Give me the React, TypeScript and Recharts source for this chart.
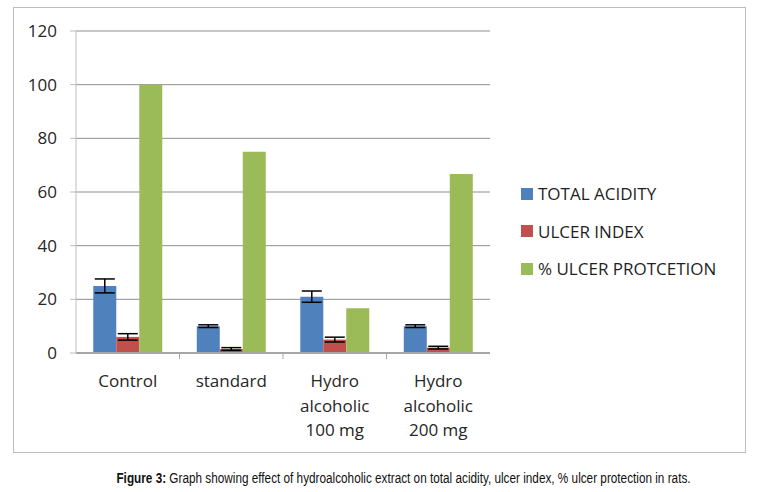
import React from 'react';
import { BarChart, Bar, XAxis, YAxis, CartesianGrid, Legend, ErrorBar } from 'recharts';

// groups on the x axis (multi-line labels)
const groups = ['Control', 'standard', 'Hydro\nalcoholic\n100 mg', 'Hydro\nalcoholic\n200 mg'];

const totalAcidity = [25, 10, 21, 10];
const totalAcidityErr = [2.6, 0.5, 2.1, 0.5];
const ulcerIndex = [6, 1.5, 5, 2];
const ulcerIndexErr = [1.2, 0.5, 0.9, 0.5];
const ulcerProtection = [100, 75, 16.7, 66.7];

const seriesNames = ['TOTAL ACIDITY', 'ULCER INDEX', '% ULCER PROTCETION'];
const yTicks = [0, 20, 40, 60, 80, 100, 120];

const data = groups.map((name, i) => ({
  name,
  acidity: totalAcidity[i],
  acidityErr: totalAcidityErr[i],
  ulcer: ulcerIndex[i],
  ulcerErr: ulcerIndexErr[i],
  protection: ulcerProtection[i],
}));

const FONT = '"Open Sans", sans-serif';
const CHART_W = 761;
const MARGIN = { top: 31, right: 271, left: 16, bottom: 17 };
const Y_W = 60;
const band = (CHART_W - MARGIN.left - MARGIN.right - Y_W) / groups.length;

const XTick = (props: any) => {
  const { x, y, payload, index } = props;
  const lines = String(payload.value).split('\n');
  return (
    <g>
      {index < groups.length - 1 && (
        <line x1={x + band / 2} x2={x + band / 2} y1={y} y2={y + 6} stroke="#a6a6a6" strokeWidth={1} />
      )}
      <text x={x} y={y} textAnchor="middle" fill="#262626" fontSize={17} fontFamily={FONT}>
        {lines.map((l, i) => (
          <tspan key={i} x={x} dy={i === 0 ? 34 : 24.5}>
            {l}
          </tspan>
        ))}
      </text>
    </g>
  );
};

const LegendBox = (props: any) => {
  const items = [...(props.payload || [])].sort(
    (a: any, b: any) => seriesNames.indexOf(a.value) - seriesNames.indexOf(b.value)
  );
  return (
    <div style={{ fontFamily: FONT, fontSize: 17, color: '#1f1f1f', width: 230 }}>
      {items.map((p: any) => (
        <div key={p.value} style={{ display: 'flex', alignItems: 'center', height: 37.5, whiteSpace: 'nowrap' }}>
          <span
            style={{
              display: 'inline-block',
              flex: '0 0 12px',
              width: 12,
              height: 12,
              background: p.color,
              marginRight: 5,
            }}
          />
          <span>{p.value}</span>
        </div>
      ))}
    </div>
  );
};

export default function App() {
  return (
    <div style={{ position: 'absolute', left: 0, top: 0, width: 761, height: 492, background: '#fff' }}>
      <div
        style={{
          position: 'absolute',
          left: 13,
          top: 7,
          width: 731,
          height: 444,
          border: '1px solid #bdbdbd',
        }}
      />
      <div style={{ position: 'absolute', left: 0, top: 0 }}>
        <BarChart width={CHART_W} height={460} data={data} margin={MARGIN} barGap={0} barCategoryGap="16.7%">
          <CartesianGrid horizontal vertical={false} stroke="#8f8f8f" strokeWidth={1} />
          <XAxis
            dataKey="name"
            interval={0}
            height={90}
            tickLine={false}
            tickSize={0}
            tickMargin={0}
            axisLine={{ stroke: '#a6a6a6', strokeWidth: 2 }}
            tick={<XTick />}
          />
          <YAxis
            width={Y_W}
            domain={[0, 120]}
            ticks={yTicks}
            interval={0}
            axisLine={{ stroke: '#bdbdbd' }}
            tickLine={{ stroke: '#bdbdbd' }}
            tickSize={6}
            tickMargin={13}
            tick={{ fill: '#262626', fontSize: 17, fontFamily: FONT }}
          />
          <Legend
            layout="vertical"
            verticalAlign="middle"
            align="right"
            content={<LegendBox />}
            wrapperStyle={{ position: 'absolute', left: 521, top: 175, width: 0, overflow: 'visible' }}
          />
          <Bar dataKey="acidity" name={seriesNames[0]} fill="#4f81bd" isAnimationActive={false}>
            <ErrorBar dataKey="acidityErr" width={10} stroke="#000" strokeWidth={1.5} />
          </Bar>
          <Bar dataKey="ulcer" name={seriesNames[1]} fill="#c0504d" isAnimationActive={false}>
            <ErrorBar dataKey="ulcerErr" width={10} stroke="#000" strokeWidth={1.5} />
          </Bar>
          <Bar dataKey="protection" name={seriesNames[2]} fill="#9bbb59" isAnimationActive={false} />
        </BarChart>
      </div>
      <div
        style={{
          position: 'absolute',
          left: 23,
          width: 761,
          top: 470,
          textAlign: 'center',
          fontFamily: '"Liberation Sans", Arial, sans-serif',
          fontSize: 14,
          color: '#111',
          whiteSpace: 'nowrap',
          transform: 'scaleX(0.84)',
          transformOrigin: '50% 0',
        }}
      >
        <b>Figure 3:</b> Graph showing effect of hydroalcoholic extract on total acidity, ulcer index, % ulcer protection in rats.
      </div>
    </div>
  );
}
